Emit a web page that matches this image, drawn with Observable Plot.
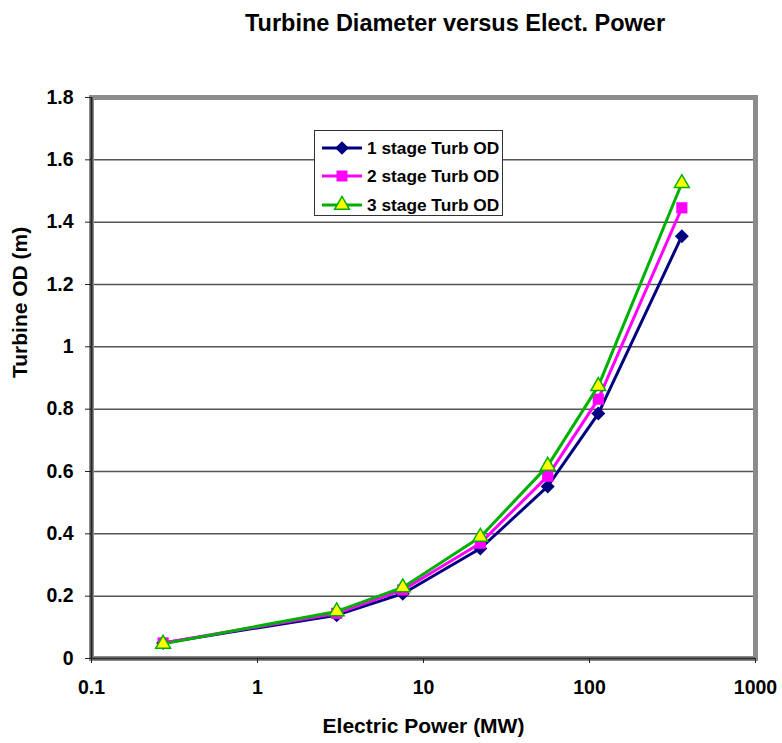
<!DOCTYPE html>
<html><head><meta charset="utf-8">
<script src="https://cdn.jsdelivr.net/npm/d3@7"></script>
<script src="https://cdn.jsdelivr.net/npm/@observablehq/plot@0.6"></script>
<style>
body{margin:0;background:#fff;font-family:"Liberation Sans",Arial,sans-serif;}
#wrap{position:relative;width:782px;height:743px;overflow:hidden;}
#title{position:absolute;left:0;width:910px;top:10px;text-align:center;font-weight:bold;font-size:23.5px;color:#000;z-index:2;}
#chart{position:absolute;left:0;top:0;z-index:1;}
#legend{position:absolute;left:314px;top:130px;width:187px;height:84px;border:1.5px solid #333;background:#fff;z-index:3;}
.row{position:absolute;left:0;height:20px;display:flex;align-items:center;font-weight:bold;font-size:17.3px;color:#000;white-space:nowrap;}
.row svg{margin-left:6px;margin-right:4px;}
</style></head><body>
<div id="wrap">
  <div id="chart"></div>
  <div id="title">Turbine Diameter versus Elect. Power</div>
  <div id="legend"></div>
</div>
<script>
const power = [0.27, 3, 7.5, 22, 56, 113, 360];
const stage1 = [0.05, 0.139, 0.208, 0.353, 0.552, 0.786, 1.355];
const stage2 = [0.05, 0.145, 0.22, 0.37, 0.585, 0.832, 1.446];
const stage3 = [0.047, 0.151, 0.228, 0.39, 0.618, 0.874, 1.525];
const seriesNames = ["1 stage Turb OD", "2 stage Turb OD", "3 stage Turb OD"];
const seriesColors = ["#000080", "#ff00ff", "#00b000"];
const seriesFills = ["#000080", "#ff00ff", "#ffff00"];
const seriesSymbols = ["diamond2", "square", "triangle"];
const yTicks = [0, 0.2, 0.4, 0.6, 0.8, 1, 1.2, 1.4, 1.6, 1.8];
const xTicks = [0.1, 1, 10, 100, 1000];

const allSeries = [stage1, stage2, stage3];
const data = allSeries.flatMap((vals, i) => vals.map((v, j) => ({series: seriesNames[i], idx: i, x: power[j], y: v})));

const marks = [
  Plot.ruleY(yTicks.filter(d => d > 0 && d < 1.8), {stroke: "#555", strokeWidth: 1.5}),
  Plot.frame({stroke: "#8c8c8c", strokeWidth: 5}),
  Plot.ruleX([0.1], {stroke: "#222", strokeWidth: 2}),
  Plot.ruleY([0], {stroke: "#333", strokeWidth: 2}),
  Plot.axisY({ticks: yTicks, tickSize: 6, tickPadding: 12, tickFormat: d => String(+d.toFixed(1)), fontSize: 19.5, fontWeight: "bold", stroke: "#222", label: null}),
  Plot.axisX({ticks: xTicks, tickSize: 5, tickPadding: 17, tickFormat: d => String(d), fontSize: 19.5, fontWeight: "bold", stroke: "#222", label: null})
];
allSeries.forEach((vals, i) => {
  const d = data.filter(e => e.idx === i);
  marks.push(Plot.line(d, {x: "x", y: "y", stroke: seriesColors[i], strokeWidth: 3}));
  marks.push(Plot.dot(d, {x: "x", y: "y", symbol: () => seriesSymbols[i], fill: seriesFills[i], stroke: i === 2 ? seriesColors[i] : "none", strokeWidth: 1.5, r: i === 2 ? 5.5 : 6.3}));
});
marks.push(Plot.text(["Electric Power (MW)"], {frameAnchor: "bottom", dy: 74, fontSize: 21, fontWeight: "bold", fill: "#000"}));
marks.push(Plot.text(["Turbine OD (m)"], {frameAnchor: "left", dx: -71, rotate: -90, fontSize: 21, fontWeight: "bold", fill: "#000"}));

const chart = Plot.plot({
  width: 782, height: 743,
  marginLeft: 91, marginRight: 27, marginTop: 97, marginBottom: 85,
  style: {fontFamily: '"Liberation Sans", Arial, sans-serif', color: "#000", background: "transparent", overflow: "visible"},
  x: {type: "log", domain: [0.1, 1000]},
  y: {domain: [0, 1.8]},
  symbol: {type: "identity"},
  marks
});
document.getElementById("chart").appendChild(chart);

const legend = document.getElementById("legend");
const rowTops = [7, 35, 64];
seriesNames.forEach((name, i) => {
  const row = document.createElement("div");
  row.className = "row";
  row.style.top = rowTops[i] + "px";
  const sym = d3.symbol().type(i === 0 ? d3.symbolDiamond2 : i === 1 ? d3.symbolSquare : d3.symbolTriangle).size(i === 2 ? 95 : 120)();
  row.innerHTML = `<svg width="42" height="20"><line x1="1" x2="41" y1="10" y2="10" stroke="${seriesColors[i]}" stroke-width="3"/><path transform="translate(21,10)" d="${sym}" fill="${seriesFills[i]}" stroke="${i === 2 ? seriesColors[i] : 'none'}" stroke-width="1.5"/></svg><span>${name}</span>`;
  legend.appendChild(row);
});
</script>
</body></html>
